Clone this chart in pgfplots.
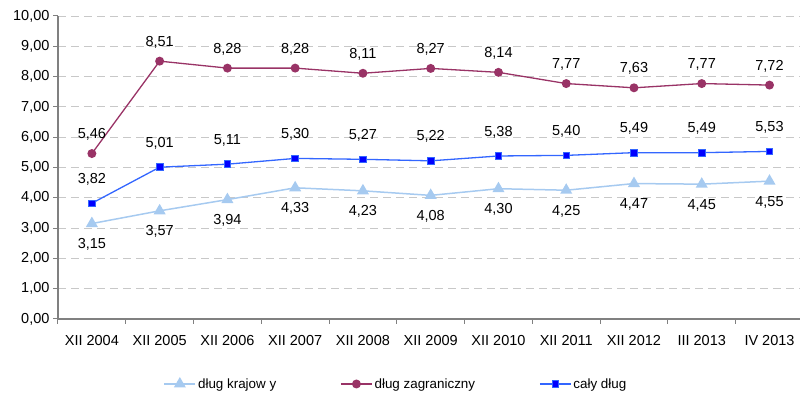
\documentclass[border=0pt]{standalone}
\usepackage{fontspec}
\setmainfont{Liberation Sans}
\usepackage{pgfplots}
\pgfplotsset{compat=1.18}
\definecolor{kraj}{RGB}{166,202,240}
\definecolor{zagr}{RGB}{153,51,102}
\definecolor{caly}{RGB}{51,102,255}
\definecolor{calyfill}{RGB}{0,0,255}
\definecolor{axgray}{RGB}{128,128,128}
\definecolor{gridgray}{RGB}{200,200,200}
\newcommand{\fs}{\fontsize{14.5pt}{17pt}\selectfont}
\newcommand{\fl}{\fontsize{13.4pt}{16pt}\selectfont}
\begin{document}
\begin{tikzpicture}
\path[use as bounding box] (-58pt,-77pt) rectangle (743pt,319pt);
\begin{axis}[
  at={(0pt,0pt)}, anchor=south west,
  scale only axis,
  width=742pt, height=303pt,
  xmin=-0.5, xmax=10.45,
  ymin=0, ymax=10,
  axis x line=bottom, axis y line=left,
  axis line style={-, draw=axgray, line width=1.1pt},
  xtick={0,...,10},
  xticklabels={XII 2004,XII 2005,XII 2006,XII 2007,XII 2008,XII 2009,XII 2010,XII 2011,XII 2012,III 2013,IV 2013},
  minor xtick={-0.5,0.5,...,9.5},
  major x tick style={draw=none},
  minor x tick style={draw=axgray, line width=1pt},
  ytick={0,1,...,10},
  y tick style={draw=axgray, line width=1pt},
  tick align=outside,
  major tick length=5pt, minor tick length=5pt,
  ymajorgrids,
  grid style={draw=gridgray, dash pattern=on 8pt off 5pt, line width=0.9pt},
  /pgf/number format/fixed,
  /pgf/number format/fixed zerofill,
  /pgf/number format/precision=2,
  /pgf/number format/use comma,
  /pgf/number format/assume math mode=true,
  tick label style={font=\fs},
  xticklabel style={yshift=-8pt},
  nodes near coords,
  every node near coord/.append style={font=\fs, text=black, anchor=center},
  legend columns=3,
  legend style={draw=none, fill=none, font=\fl, at={(axis description cs:0.138,-0.2145)}, anchor=west,
    /tikz/every even column/.append style={column sep=62pt}},
  legend image code/.code={\draw[mark repeat=2,mark phase=2] plot coordinates {(0pt,0pt)(15.5pt,0pt)(31pt,0pt)};},
  clip=false,
]
\addplot[color=kraj, line width=1.5pt, mark=triangle*, mark size=5.5pt, mark options={fill=kraj, draw=kraj},
  every node near coord/.append style={yshift=-21pt}]
  coordinates {(0,3.15)(1,3.57)(2,3.94)(3,4.33)(4,4.23)(5,4.08)(6,4.30)(7,4.25)(8,4.47)(9,4.45)(10,4.55)};
\addlegendentry{dług krajow y}
\addplot[color=zagr, line width=1.3pt, mark=*, mark size=3.8pt, mark options={fill=zagr, draw=zagr},
  every node near coord/.append style={yshift=19pt}]
  coordinates {(0,5.46)(1,8.51)(2,8.28)(3,8.28)(4,8.11)(5,8.27)(6,8.14)(7,7.77)(8,7.63)(9,7.77)(10,7.72)};
\addlegendentry{dług zagraniczny}
\addplot[color=caly, line width=1.3pt, mark=square*, mark size=3.3pt, mark options={fill=calyfill, draw=caly, line width=0.8pt},
  every node near coord/.append style={yshift=24pt}]
  coordinates {(0,3.82)(1,5.01)(2,5.11)(3,5.30)(4,5.27)(5,5.22)(6,5.38)(7,5.40)(8,5.49)(9,5.49)(10,5.53)};
\addlegendentry{cały dług}
\end{axis}
\end{tikzpicture}
\end{document}
